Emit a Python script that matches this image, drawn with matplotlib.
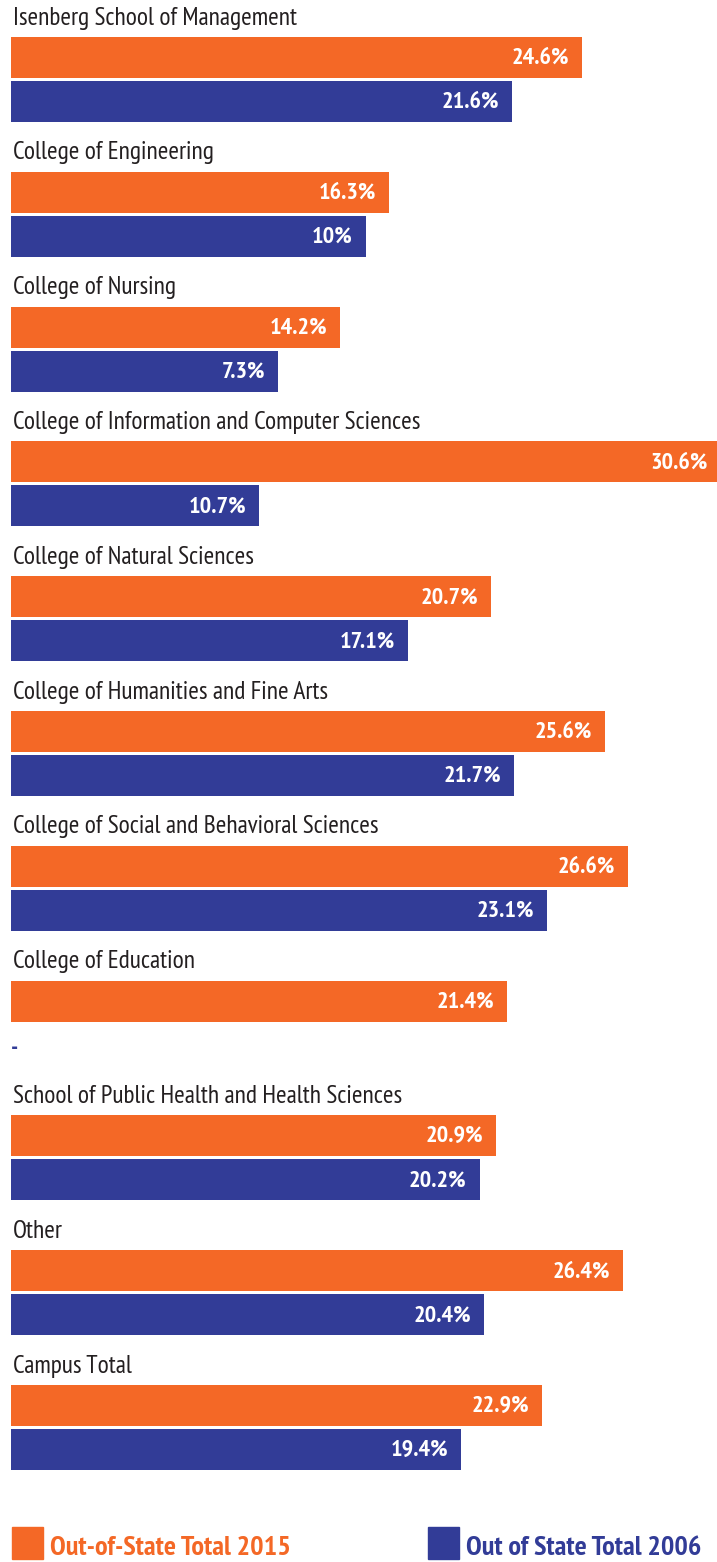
import matplotlib
matplotlib.use("Agg")
import matplotlib.pyplot as plt

categories = [
    "Isenberg School of Management",
    "College of Engineering",
    "College of Nursing",
    "College of Information and Computer Sciences",
    "College of Natural Sciences",
    "College of Humanities and Fine Arts",
    "College of Social and Behavioral Sciences",
    "College of Education",
    "School of Public Health and Health Sciences",
    "Other",
    "Campus Total",
]
# bar lengths as drawn in the reference
out_2015 = [24.6, 16.3, 14.2, 30.6, 20.7, 25.6, 26.6, 21.4, 20.9, 26.4, 22.9]
out_2006 = [21.6, 15.3, 11.5, 10.7, 17.1, 21.7, 23.1, 0.0, 20.2, 20.4, 19.4]
# printed labels
labels_2015 = ["24.6%", "16.3%", "14.2%", "30.6%", "20.7%", "25.6%", "26.6%", "21.4%", "20.9%", "26.4%", "22.9%"]
labels_2006 = ["21.6%", "10%", "7.3%", "10.7%", "17.1%", "21.7%", "23.1%", "-", "20.2%", "20.4%", "19.4%"]
legend_labels = ["Out-of-State Total 2015", "Out of State Total 2006"]

ORANGE = "#F46826"
BLUE = "#323C97"
TEXT = "#231F20"

FAM = ["PT Sans Narrow", "DejaVu Sans"]
plt.rcParams["font.family"] = FAM

W, H = 717, 1562
fig = plt.figure(figsize=(W / 100, H / 100), dpi=100)
ax = fig.add_axes([0, 0, 1, 1])
scale = 23.2  # px per percent
x0 = 11
ax.set_xlim(-x0 / scale, (W - x0) / scale)
ax.set_ylim(H, 0)
ax.axis("off")

pitch = 134.8
top0 = 37
bh = 41
for i, cat in enumerate(categories):
    t = top0 + i * pitch
    ax.text(2 / scale, t - 19, cat, fontsize=18.3, color=TEXT, va="center", ha="left")
    ax.barh(t + bh / 2, out_2015[i], height=bh, left=0, color=ORANGE)
    ax.text(out_2015[i] - 13 / scale, t + bh / 2 + 1, labels_2015[i], fontsize=17.5,
            fontweight="bold", color="white", ha="right", va="center")
    tb = t + 44
    if out_2006[i] > 0:
        ax.barh(tb + bh / 2, out_2006[i], height=bh, left=0, color=BLUE)
        ax.text(out_2006[i] - 13 / scale, tb + bh / 2 + 1, labels_2006[i], fontsize=17.5,
                fontweight="bold", color="white", ha="right", va="center")
    else:
        ax.text(0, tb + 24, labels_2006[i], fontsize=17.5, fontweight="bold",
                color=BLUE, ha="left", va="center")

# legend
for (sx, col, lab) in [(12, ORANGE, legend_labels[0]), (428, BLUE, legend_labels[1])]:
    ax.add_patch(plt.Rectangle(((sx - x0) / scale, 1527), 31 / scale, 32, color=col, clip_on=False))
    ax.text((sx - x0 + 38) / scale, 1548, lab, fontsize=20.3, fontweight="bold",
            color=col, ha="left", va="center")

fig.savefig("out.png", dpi=100)
